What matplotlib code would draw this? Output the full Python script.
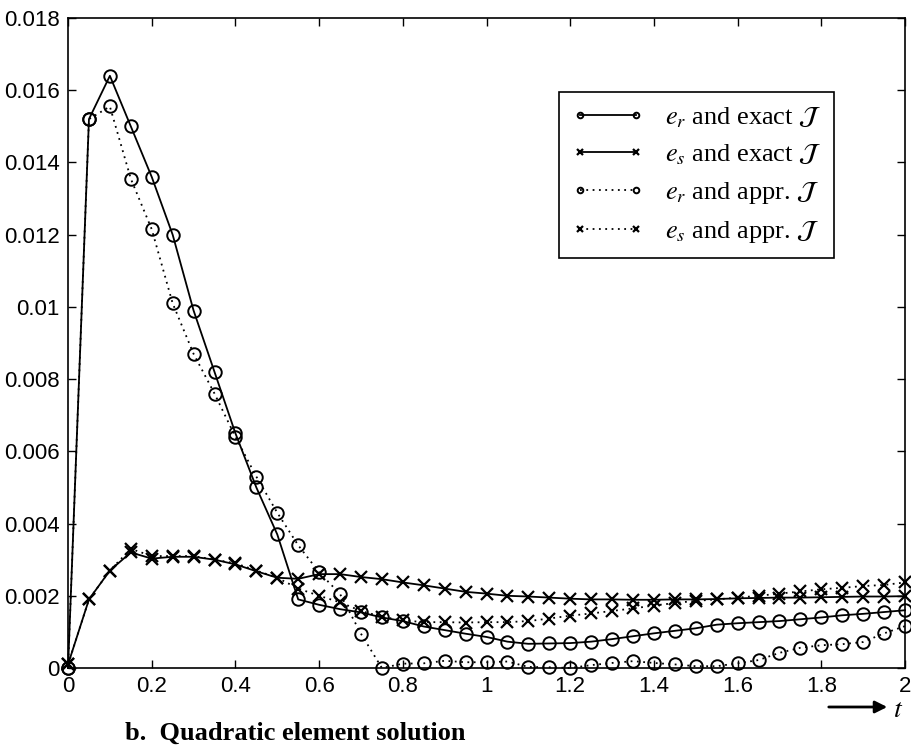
import matplotlib
matplotlib.use("Agg")
import matplotlib.pyplot as plt

plt.rcParams["mathtext.fontset"] = "stix"

t = [0.0, 0.05, 0.1, 0.15, 0.2, 0.25, 0.3, 0.35, 0.4, 0.45,
     0.5, 0.55, 0.6, 0.65, 0.7, 0.75, 0.8, 0.85, 0.9, 0.95,
     1.0, 1.05, 1.1, 1.15, 1.2, 1.25, 1.3, 1.35, 1.4, 1.45,
     1.5, 1.55, 1.6, 1.65, 1.7, 1.75, 1.8, 1.85, 1.9, 1.95, 2.0]

# e_r, exact J
er_exact = [0.0, 0.0152, 0.0164, 0.0150, 0.0136, 0.0120, 0.0099, 0.0082, 0.0065, 0.0050,
            0.0037, 0.0019, 0.00175, 0.00163, 0.00154, 0.0014, 0.0013, 0.00115, 0.00105, 0.00095,
            0.00086, 0.00073, 0.00067, 0.00068, 0.00069, 0.00073, 0.0008, 0.00088, 0.00096, 0.00103,
            0.0011, 0.0012, 0.00124, 0.00127, 0.0013, 0.00135, 0.0014, 0.00146, 0.0015, 0.00155, 0.0016]

# e_s, exact J
es_exact = [0.0001, 0.0019, 0.0027, 0.0032, 0.00303, 0.00308, 0.00308, 0.0030, 0.00287, 0.00268,
            0.0025, 0.00247, 0.0026, 0.0026, 0.00252, 0.00246, 0.00237, 0.00229, 0.0022, 0.00211,
            0.00206, 0.0020, 0.00198, 0.00195, 0.00192, 0.0019, 0.0019, 0.00189, 0.00189, 0.0019,
            0.0019, 0.00191, 0.00193, 0.00194, 0.00195, 0.00195, 0.00196, 0.00197, 0.00198, 0.00198, 0.00199]

# e_r, approximate J
er_appr = [0.0, 0.0152, 0.01555, 0.01355, 0.01215, 0.0101, 0.0087, 0.0076, 0.0064, 0.0053,
           0.0043, 0.0034, 0.00265, 0.00205, 0.00095, 0.0, 0.00012, 0.00013, 0.0002, 0.00016,
           0.00016, 0.00018, 0.00003, 0.00002, 0.0, 0.00008, 0.00014, 0.00019, 0.00014, 0.0001,
           0.00005, 0.00005, 0.00013, 0.00022, 0.00042, 0.00056, 0.00063, 0.00066, 0.00072, 0.00096, 0.00116]

# e_s, approximate J
es_appr = [0.0001, 0.0019, 0.0027, 0.0033, 0.0031, 0.0031, 0.0031, 0.0030, 0.0029, 0.0027,
           0.0025, 0.0022, 0.0020, 0.00182, 0.00158, 0.00142, 0.00132, 0.00127, 0.00127, 0.00126,
           0.00127, 0.00127, 0.0013, 0.00137, 0.00145, 0.00151, 0.00158, 0.00165, 0.00173, 0.0018,
           0.00186, 0.0019, 0.00195, 0.002, 0.00206, 0.00212, 0.00218, 0.00222, 0.00227, 0.0023, 0.00237]

labels = [r"$e_r$ and exact $\mathcal{J}$", r"$e_s$ and exact $\mathcal{J}$",
          r"$e_r$ and appr. $\mathcal{J}$", r"$e_s$ and appr. $\mathcal{J}$"]

fig = plt.figure(figsize=(9.12, 7.51), dpi=100)
ax = fig.add_axes([0.0746, 0.1105, 0.9177, 0.8655])

dots = (0, (1, 2.5))
common = dict(color="black", mfc="none", mec="black", clip_on=False, zorder=3)
ax.plot(t, er_exact, "-", marker="o", ms=9, mew=1.4, lw=1.3, label=labels[0], **common)
ax.plot(t, es_exact, "-", marker="x", ms=9, mew=1.6, lw=1.3, label=labels[1], **common)
ax.plot(t, er_appr, linestyle=dots, marker="o", ms=9, mew=1.4, lw=1.3, label=labels[2], **common)
ax.plot(t, es_appr, linestyle=dots, marker="x", ms=9, mew=1.6, lw=1.3, label=labels[3], **common)

ax.set_xlim(0, 2)
ax.set_ylim(0, 0.018)
ax.set_xticks([0, 0.2, 0.4, 0.6, 0.8, 1.0, 1.2, 1.4, 1.6, 1.8, 2.0])
ax.set_yticks([0, 0.002, 0.004, 0.006, 0.008, 0.01, 0.012, 0.014, 0.016, 0.018])
ax.xaxis.set_major_formatter(matplotlib.ticker.FormatStrFormatter("%g"))
ax.yaxis.set_major_formatter(matplotlib.ticker.FormatStrFormatter("%g"))
ax.tick_params(direction="in", top=True, right=True, length=6, width=1,
               labelsize=16, pad=6)
for lab in ax.get_xticklabels() + ax.get_yticklabels():
    lab.set_family("Liberation Sans")
for sp in ax.spines.values():
    sp.set_linewidth(1.2)

leg = ax.legend(loc="upper left", bbox_to_anchor=(0.5866, 0.886), borderaxespad=0,
                numpoints=2, markerscale=0.45, handlelength=2.7, labelspacing=0.5,
                fancybox=False, framealpha=1, edgecolor="black",
                prop={"family": "Liberation Serif", "size": 19},
                borderpad=0.5, handletextpad=0.8)
leg.get_frame().set_linewidth(1.2)

# arrow with t below the axis
fig.patches.append(matplotlib.patches.FancyArrowPatch(
    (826 / 912, 1 - 707 / 751), (890 / 912, 1 - 707 / 751),
    transform=fig.transFigure, arrowstyle="-|>", mutation_scale=18,
    lw=2, color="black"))
fig.text(893 / 912, 1 - 709 / 751, r"$t$", fontsize=20, va="center", ha="left")

fig.text(295 / 912, 1 - 733 / 751, "b.  Quadratic element solution",
         family="Liberation Serif", weight="bold", fontsize=19,
         ha="center", va="center")

fig.savefig("out.png", dpi=100)
